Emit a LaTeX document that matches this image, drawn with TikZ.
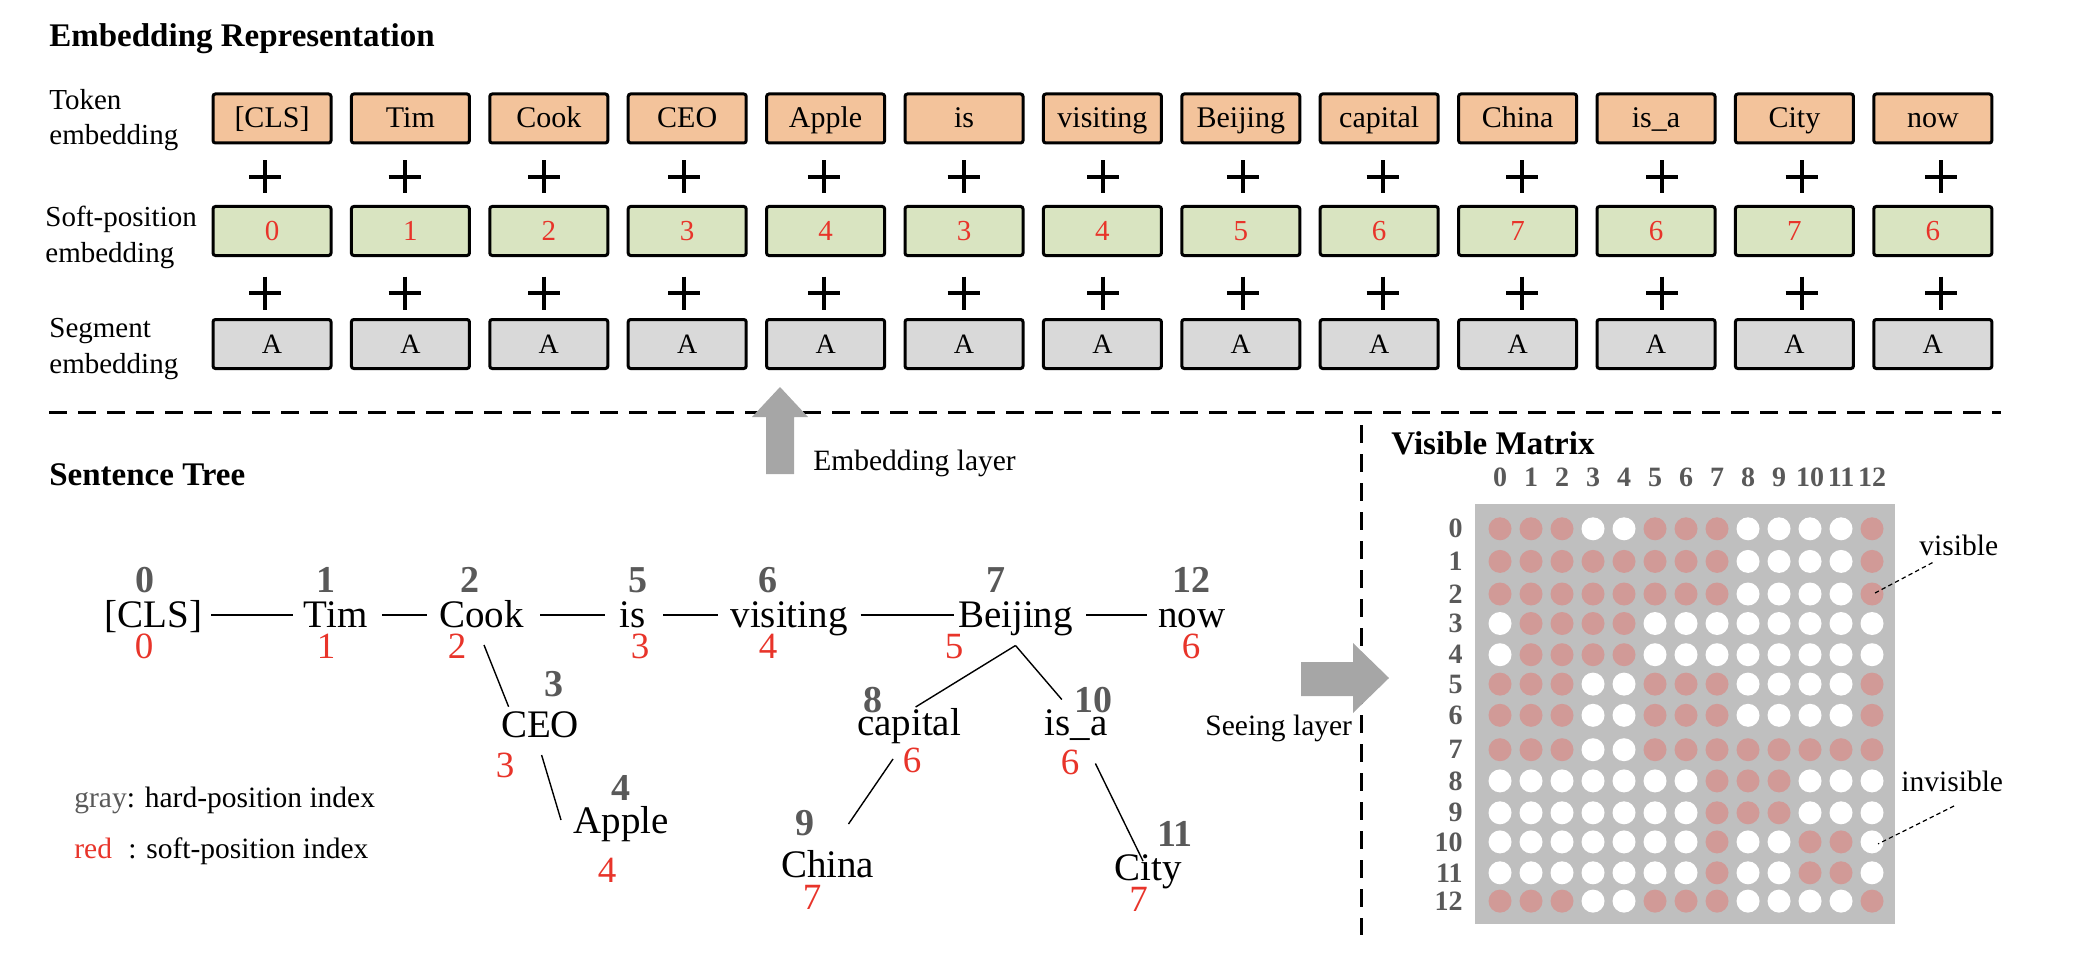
\documentclass[tikz,border=0pt]{standalone}
\usepackage{fontspec}
\setmainfont{Liberation Serif}
\usetikzlibrary{calc}
\definecolor{tokfill}{HTML}{F3C39B}
\definecolor{softfill}{HTML}{D9E4C1}
\definecolor{segfill}{HTML}{D9D9D9}
\definecolor{redc}{HTML}{E8342A}
\definecolor{grayc}{HTML}{595959}
\definecolor{arrowc}{HTML}{A6A6A6}
\definecolor{matbg}{HTML}{BFBFBF}
\definecolor{pinkc}{HTML}{D19A97}
\begin{document}
\begin{tikzpicture}[x=0.5pt,y=-0.5pt,
  sect/.style={font=\bfseries\fontsize{16.5}{20}\selectfont, anchor=base west, inner sep=0},
  rowlab/.style={font=\fontsize{14.5}{17}\selectfont, anchor=base west, inner sep=0},
  tok/.style={draw=black, line width=1.5pt, fill=tokfill, rounded corners=1.2pt,
    minimum width=59pt, minimum height=24.5pt, inner sep=0, text height=10pt, text depth=0.5pt,
    font=\fontsize{15}{18}\selectfont},
  soft/.style={tok, fill=softfill, text=redc, font=\fontsize{14.5}{18}\selectfont},
  seg/.style={tok, fill=segfill, font=\fontsize{14}{18}\selectfont},
  plus/.style={line width=2pt},
  sep/.style={line width=1.5pt, dash pattern=on 9pt off 5.5pt},
  word/.style={font=\fontsize{19.5}{22}\selectfont, anchor=base, inner sep=0, text height=14pt, text depth=2pt},
  hidx/.style={font=\bfseries\fontsize{19}{22}\selectfont, text=grayc, anchor=base, inner sep=0},
  sidx/.style={font=\fontsize{18.5}{22}\selectfont, text=redc, anchor=base, inner sep=0},
  tline/.style={line width=0.7pt},
  legend/.style={font=\fontsize{14.75}{17}\selectfont, anchor=base west, inner sep=0},
  midx/.style={font=\bfseries\fontsize{14}{16}\selectfont, text=grayc, inner sep=0},
  dot/.style={circle, minimum size=11.5pt, inner sep=0, draw=none},
  leader/.style={line width=0.6pt, dash pattern=on 2.2pt off 1.6pt}
]
\useasboundingbox (0,0) rectangle (2096,968);

% titles
\node[sect] (t1) at (49,47) {Embedding Representation};
\node[sect] (t2) at (49,485) {Sentence Tree};
\node[sect] (t3) at (1391,454) {Visible Matrix};

% row labels
\node[rowlab] (l1a) at (49,110) {Token};
\node[rowlab] (l1b) at (49,145) {embedding};
\node[rowlab] (l2a) at (45,227) {Soft-position};
\node[rowlab] (l2b) at (45,263) {embedding};
\node[rowlab] (l3a) at (49,337) {Segment};
\node[rowlab] (l3b) at (49,373) {embedding};

% embedding boxes
\foreach \w/\s [count=\i from 0] in {{[CLS]}/0,Tim/1,Cook/2,CEO/3,Apple/4,is/3,visiting/4,Beijing/5,capital/6,China/7,{is\_a}/6,City/7,now/6}{
  \node[tok] (k\i) at ({272+138.4*\i},118.5) {\w};
  \node[soft] (p\i) at ({272+138.4*\i},231) {\s};
  \node[seg] (g\i) at ({272+138.4*\i},344) {A};
}
\foreach \i in {0,...,12}{
  \draw[plus] ({265+139.7*\i-16},177) -- ++(32,0) ({265+139.7*\i},160.5) -- ++(0,33);
  \draw[plus] ({265+139.7*\i-16},293) -- ++(32,0) ({265+139.7*\i},276.5) -- ++(0,33);
}

% separators
\draw[sep] (49,412) -- (2001,412);
\draw[sep] (1361,425) -- (1361,935);

% gray arrows
\fill[arrowc] (766,474) -- (766,417) -- (752,417) -- (780,387) -- (808,417) -- (794,417) -- (794,474) -- cycle;
\fill[arrowc] (1301,662) -- (1353,662) -- (1353,643) -- (1389,678) -- (1353,713) -- (1353,696) -- (1301,696) -- cycle;
\node[legend] (el) at (813,470) {Embedding layer};
\node[legend] (sl) at (1205,735) {Seeing layer};

% sentence tree words
\node[word] (cls) at (153.6,627) {[CLS]};
\node[word] (tim) at (335.7,627) {Tim};
\node[word] (cook) at (481.5,627) {Cook};
\node[word] (is) at (632.5,627) {is};
\node[word] (vis) at (789,627) {visiting};
\node[word] (bei) at (1015.5,627) {Beijing};
\node[word] (now) at (1192,627) {now};
\node[word] (ceo) at (540,737) {CEO};
\node[word] (apple) at (621,833) {Apple};
\node[word] (cap) at (909,735) {capital};
\node[word] (isa) at (1076,735) {is\_a};
\node[word] (china) at (827.6,877) {China};
\node[word] (city) at (1148.5,880) {City};

% hard-position indices
\node[hidx] (h0) at (145,592) {0};
\node[hidx] (h1) at (326,592) {1};
\node[hidx] (h2) at (470,592) {2};
\node[hidx] (h5) at (638,592) {5};
\node[hidx] (h6) at (768,592) {6};
\node[hidx] (h7) at (996,592) {7};
\node[hidx] (h12) at (1191,592) {12};
\node[hidx] (h3) at (554,696) {3};
\node[hidx] (h4) at (621,800) {4};
\node[hidx] (h8) at (873,712) {8};
\node[hidx] (h10) at (1093,712) {10};
\node[hidx] (h9) at (805,835) {9};
\node[hidx] (h11) at (1175,846) {11};

% soft-position indices
\node[sidx] (s0) at (144,658) {0};
\node[sidx] (s1) at (326,658) {1};
\node[sidx] (s2) at (457,658) {2};
\node[sidx] (s3) at (640,658) {3};
\node[sidx] (s4) at (768,658) {4};
\node[sidx] (s5) at (954,658) {5};
\node[sidx] (s6) at (1191,658) {6};
\node[sidx] (sceo) at (505,777) {3};
\node[sidx] (sapple) at (607,882) {4};
\node[sidx] (scap) at (912,772) {6};
\node[sidx] (sisa) at (1070,774) {6};
\node[sidx] (schina) at (812,909) {7};
\node[sidx] (scity) at (1138.5,911) {7};

% tree connectors
\draw[tline] ([xshift=4.2pt]cls.east) -- ([xshift=-5pt]tim.west);
\draw[tline] ([xshift=7pt]tim.east) -- ([xshift=-6pt]cook.west);
\draw[tline] ([xshift=8pt]cook.east) -- ([xshift=-7pt]is.west);
\draw[tline] ([xshift=8.7pt]is.east) -- ([xshift=-6.2pt]vis.west);
\draw[tline] ([xshift=6.3pt]vis.east) -- ([xshift=-1.8pt]bei.west);
\draw[tline] ([xshift=6.5pt]bei.east) -- ([xshift=-5.5pt]now.west);
\draw[tline] ($(cook.base)+(2.5,18)$) -- ($(ceo.base)+(-31.4,-30.3)$);
\draw[tline] ($(ceo.base)+(1.6,18)$) -- ($(apple.base)+(-60,-13)$);
\draw[tline] ($(bei.base)+(0,18.5)$) -- ($(cap.base)+(6.6,-28)$);
\draw[tline] ($(bei.base)+(0,18.5)$) -- ($(isa.base)+(-14.2,-35.5)$);
\draw[tline] ($(cap.base)+(-16,24)$) -- ($(china.base)+(20.9,-53)$);
\draw[tline] ($(isa.base)+(19.4,28.5)$) -- ($(city.base)+(-5.5,-19)$);

% legend
\node[legend] (lg1) at (74,807) {\textcolor{grayc}{gray}: hard-position index};
\node[legend] (lg2) at (74,858) {\textcolor{redc}{red}\hspace{0.55em}: soft-position index};

% visible matrix
\fill[matbg] (1474.5,504) rectangle (1894.6,923.5);
\foreach \c in {0,...,12}{
  \node[midx] (c\c) at ({1500+31*\c},477) {\c};
}
\foreach \ry/\pl [count=\r from 0] in {
  528.8/{0,1,2,5,6,7,12},
  561.4/{0,1,2,3,4,5,6,7,12},
  594/{0,1,2,3,4,5,6,7,12},
  623.5/{1,2,3,4},
  654.7/{1,2,3,4},
  684.1/{0,1,2,5,6,7,12},
  715.3/{0,1,2,5,6,7,12},
  749.7/{0,1,2,5,6,7,8,9,10,11,12},
  780.9/{7,8,9},
  812.8/{7,8,9},
  841.9/{7,10,11},
  872.8/{7,10,11},
  901.1/{0,1,2,5,6,7,12}}{
  \node[midx, anchor=east] (r\r) at (1463,\ry) {\r};
  \foreach \c in {0,...,12}{
    \gdef\dotcol{white}
    \foreach \p in \pl {\ifnum\p=\c\relax\gdef\dotcol{pinkc}\fi}
    \node[dot, fill=\dotcol] (d-\r-\c) at ({1500+31*\c},\ry) {};
  }
}
\node[legend] (vtxt) at (1919,555) {visible};
\node[legend] (itxt) at (1901,791) {invisible};
\draw[leader] ($(vtxt.base west)+(13.5,7.6)$) -- ($(d-2-12.center)+(3,-1)$);
\draw[leader] ($(itxt.base west)+(53,15)$) -- ($(d-10-12.center)+(6,2)$);
\end{tikzpicture}
\end{document}
